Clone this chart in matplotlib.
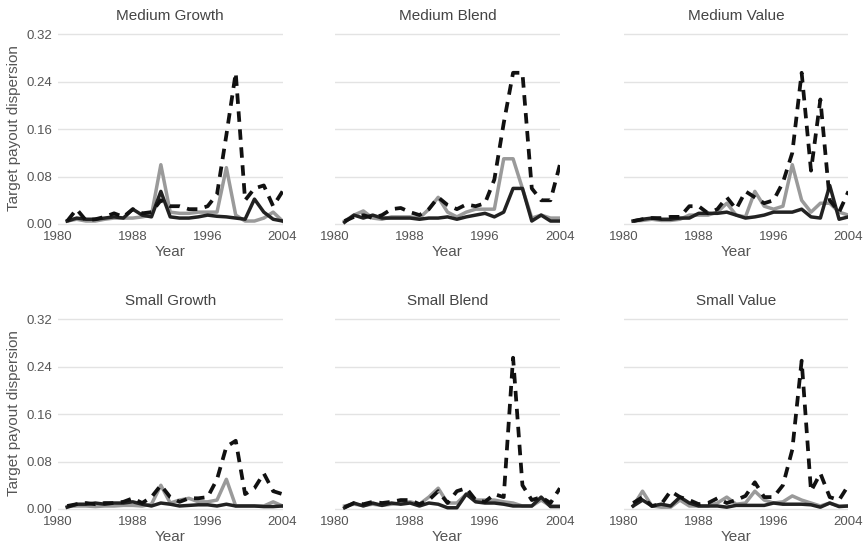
import matplotlib
matplotlib.use('Agg')  # no display
import matplotlib.pyplot as plt

plt.rcParams['font.family'] = ['Liberation Sans', 'DejaVu Sans']

years = list(range(1981, 2005))
panels = ["Medium Growth", "Medium Blend", "Medium Value",
          "Small Growth", "Small Blend", "Small Value"]

# dashed black series
dashed = {
    "Medium Growth": [0.005, 0.025, 0.006, 0.008, 0.012, 0.018, 0.012, 0.025, 0.018, 0.02,
                      0.04, 0.03, 0.03, 0.025, 0.025, 0.03, 0.05, 0.15, 0.255, 0.04,
                      0.06, 0.065, 0.03, 0.055],
    "Medium Blend": [0.005, 0.012, 0.015, 0.01, 0.015, 0.025, 0.027, 0.02, 0.015, 0.025,
                     0.045, 0.032, 0.025, 0.033, 0.03, 0.035, 0.075, 0.17, 0.255, 0.255,
                     0.06, 0.04, 0.04, 0.1],
    "Medium Value": [0.005, 0.008, 0.01, 0.01, 0.012, 0.012, 0.03, 0.03, 0.018, 0.025,
                     0.045, 0.025, 0.055, 0.045, 0.035, 0.04, 0.07, 0.12, 0.255, 0.09,
                     0.21, 0.04, 0.02, 0.055],
    "Small Growth": [0.005, 0.008, 0.01, 0.008, 0.01, 0.01, 0.012, 0.018, 0.01, 0.02,
                     0.04, 0.02, 0.012, 0.018, 0.018, 0.02, 0.05, 0.105, 0.115, 0.025,
                     0.035, 0.06, 0.03, 0.025],
    "Small Blend": [0.003, 0.01, 0.008, 0.012, 0.01, 0.012, 0.015, 0.015, 0.008, 0.015,
                    0.03, 0.01, 0.03, 0.035, 0.015, 0.012, 0.025, 0.02, 0.255, 0.04,
                    0.015, 0.02, 0.01, 0.035],
    "Small Value": [0.01, 0.02, 0.005, 0.008, 0.03, 0.02, 0.015, 0.008, 0.01, 0.018,
                    0.01, 0.015, 0.022, 0.045, 0.02, 0.02, 0.04, 0.1, 0.25, 0.03,
                    0.06, 0.02, 0.015, 0.04],
}

# light grey series
grey = {
    "Medium Growth": [0.005, 0.008, 0.005, 0.005, 0.008, 0.01, 0.01, 0.01, 0.012, 0.015,
                      0.1, 0.02, 0.018, 0.018, 0.02, 0.02, 0.02, 0.095, 0.015, 0.005,
                      0.005, 0.01, 0.02, 0.005],
    "Medium Blend": [0.005, 0.015, 0.022, 0.01, 0.008, 0.012, 0.012, 0.012, 0.01, 0.025,
                     0.045, 0.02, 0.012, 0.02, 0.025, 0.025, 0.025, 0.11, 0.11, 0.06,
                     0.01, 0.015, 0.01, 0.01],
    "Medium Value": [0.005, 0.006, 0.008, 0.006, 0.006, 0.008, 0.015, 0.015, 0.015, 0.02,
                     0.035, 0.015, 0.012, 0.055, 0.03, 0.025, 0.03, 0.1, 0.04, 0.02,
                     0.035, 0.035, 0.02, 0.015],
    "Small Growth": [0.004, 0.005, 0.005, 0.004, 0.005, 0.005, 0.006, 0.006, 0.005, 0.008,
                     0.04, 0.01, 0.015, 0.018, 0.012, 0.012, 0.015, 0.05, 0.005, 0.005,
                     0.005, 0.005, 0.012, 0.005],
    "Small Blend": [0.005, 0.008, 0.006, 0.008, 0.006, 0.008, 0.01, 0.012, 0.008, 0.02,
                    0.035, 0.01, 0.01, 0.025, 0.015, 0.015, 0.015, 0.012, 0.01, 0.005,
                    0.005, 0.015, 0.005, 0.005],
    "Small Value": [0.005, 0.03, 0.005, 0.003, 0.003, 0.015, 0.005, 0.005, 0.005, 0.01,
                    0.02, 0.008, 0.01, 0.03, 0.015, 0.01, 0.012, 0.022, 0.015, 0.01,
                    0.005, 0.01, 0.005, 0.005],
}

# dark solid series
dark = {
    "Medium Growth": [0.005, 0.01, 0.008, 0.008, 0.01, 0.012, 0.01, 0.025, 0.015, 0.012,
                      0.055, 0.012, 0.01, 0.01, 0.012, 0.015, 0.013, 0.012, 0.01, 0.008,
                      0.042, 0.02, 0.008, 0.005],
    "Medium Blend": [0.003, 0.015, 0.01, 0.015, 0.01, 0.01, 0.01, 0.01, 0.008, 0.01,
                     0.01, 0.012, 0.008, 0.012, 0.015, 0.018, 0.012, 0.02, 0.06, 0.06,
                     0.005, 0.015, 0.005, 0.005],
    "Medium Value": [0.005, 0.008, 0.01, 0.008, 0.008, 0.01, 0.01, 0.018, 0.018, 0.018,
                     0.02, 0.015, 0.01, 0.012, 0.015, 0.02, 0.02, 0.02, 0.025, 0.012,
                     0.01, 0.065, 0.008, 0.012],
    "Small Growth": [0.003, 0.008, 0.008, 0.01, 0.008, 0.01, 0.01, 0.012, 0.008, 0.005,
                     0.01, 0.008, 0.005, 0.006, 0.007, 0.007, 0.005, 0.008, 0.005, 0.005,
                     0.005, 0.004, 0.004, 0.005],
    "Small Blend": [0.002, 0.01, 0.005, 0.01, 0.006, 0.01, 0.008, 0.01, 0.005, 0.01,
                    0.008, 0.002, 0.002, 0.025, 0.012, 0.01, 0.01, 0.008, 0.005, 0.005,
                    0.005, 0.02, 0.004, 0.004],
    "Small Value": [0.005, 0.015, 0.005, 0.008, 0.005, 0.02, 0.01, 0.005, 0.005, 0.005,
                    0.003, 0.006, 0.006, 0.006, 0.006, 0.01, 0.008, 0.008, 0.008, 0.007,
                    0.003, 0.01, 0.004, 0.005],
}

x_ticks = [1980, 1988, 1996, 2004]
y_ticks = [0.00, 0.08, 0.16, 0.24, 0.32]

text_col = '#555555'
fig = plt.figure(figsize=(8.64, 5.48), dpi=100)

lefts = [0.067, 0.388, 0.722]
bottoms = [0.588, 0.068]
w, h = 0.26, 0.356

for i, name in enumerate(panels):
    row, col = divmod(i, 3)
    ax = fig.add_axes([lefts[col], bottoms[row], w, h])

    ax.plot(years, grey[name], color='#9a9a9a', lw=2.5, zorder=3)
    ax.plot(years, dark[name], color='#222222', lw=2.5, zorder=4)
    ax.plot(years, dashed[name], color='#111111', lw=2.7, dashes=(2.8, 2.0), zorder=5)

    ax.set_xlim(1980, 2004)
    ax.set_ylim(-0.003, 0.326)
    ax.set_xticks(x_ticks)
    ax.set_yticks(y_ticks)
    ax.grid(axis='y', color='#e3e3e3', lw=1)
    ax.set_axisbelow(True)
    for s in ax.spines.values():
        s.set_visible(False)
    ax.tick_params(length=0, labelsize=9.5, colors=text_col, pad=4)
    ax.set_xlabel('Year', fontsize=11, color=text_col, labelpad=1)
    ax.set_title(name, fontsize=11, color='#444444', pad=8)
    if col == 0:
        ax.set_yticklabels(['%.2f' % v for v in y_ticks])
        ax.set_ylabel('Target payout dispersion', fontsize=11, color=text_col, labelpad=4)
    else:
        ax.set_yticklabels([])

fig.savefig('out.png', dpi=100)
